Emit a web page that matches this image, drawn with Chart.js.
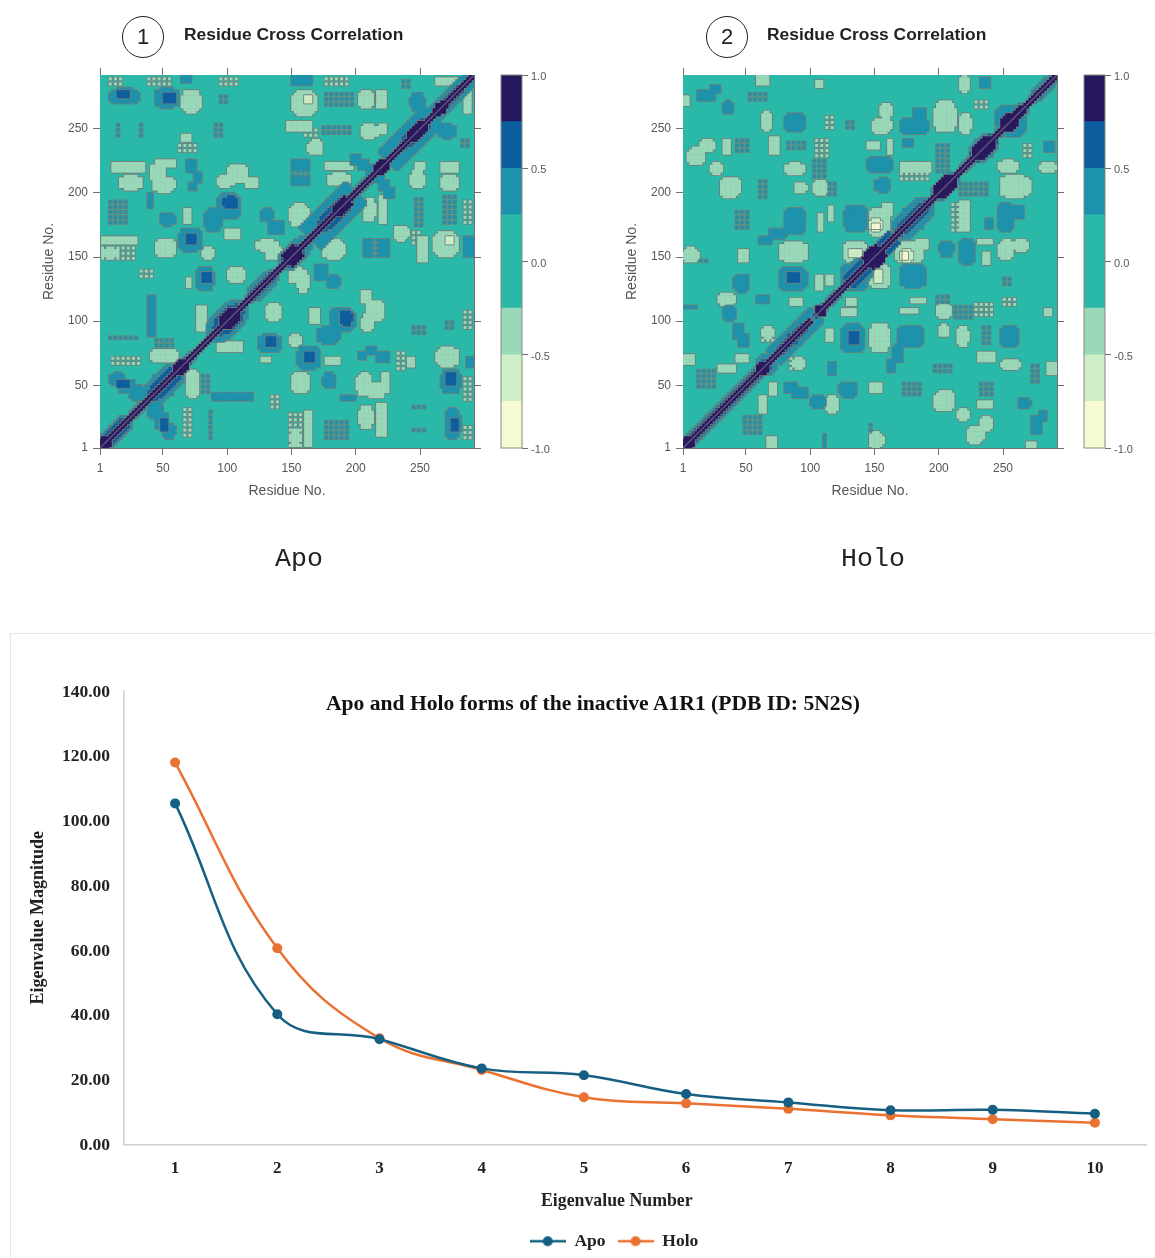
<!DOCTYPE html>
<html>
<head>
<meta charset="utf-8">
<title>Residue Cross Correlation</title>
<script src="https://cdn.jsdelivr.net/npm/chart.js@4"></script>
<style>
    html, body { margin: 0; background: #fff; }
    body { position: relative; width: 1155px; height: 1258px; overflow: hidden; }
    canvas, .txt, .ring, .box { position: absolute; filter: blur(0.5px); }
    #apoMap, #holoMap { filter: blur(0.6px); }
    .txt { white-space: nowrap; }
    .panelTitle { font: bold 17.4px "Liberation Sans"; color: #222; top: 24px; }
    .ring { width: 40px; height: 40px; top: 16px; border: 1.5px solid #222; border-radius: 50%;
            font: 22px/40px "Liberation Sans"; text-align: center; color: #222; }
    .form { font: 26.6px "Liberation Mono"; color: #222; top: 544px; }
    .box { left: 10px; top: 633px; width: 1160px; height: 650px; border: 1.5px solid #e6e6e6; }
    .serif { font: bold 17.8px "Liberation Serif"; color: #222; }
</style>
</head>
<body>
<div class="ring" style="left:122px">1</div>
<div class="txt panelTitle" style="left:184px">Residue Cross Correlation</div>
<div class="ring" style="left:706px">2</div>
<div class="txt panelTitle" style="left:767px">Residue Cross Correlation</div>
<div class="txt form" style="left:275px">Apo</div>
<div class="txt form" style="left:841px">Holo</div>
<div class="box"></div>

<canvas id="apoMap" width="460" height="450" style="left:30px;top:60px"></canvas>
<canvas id="apoBar" width="60" height="400" style="left:495px;top:60px"></canvas>
<canvas id="holoMap" width="460" height="450" style="left:613px;top:60px"></canvas>
<canvas id="holoBar" width="60" height="400" style="left:1078px;top:60px"></canvas>
<canvas id="eigenChart" width="1155" height="600" style="left:0;top:660px"></canvas>

<div class="txt" style="left:326px;top:691px;font:bold 21.6px 'Liberation Serif';color:#111">Apo and Holo forms of the inactive A1R1 (PDB ID: 5N2S)</div>
<div class="txt serif" style="left:541px;top:1190px">Eigenvalue Number</div>

<script>
// residue axes
const residueTicks = [1, 50, 100, 150, 200, 250];
const residueMin = 1;
const residueMax = 292;

// colour key
const bandEdges = [-1, -0.75, -0.5, -0.25, 0.25, 0.5, 0.75, 1];
const bandColors = ['#f6fad2', '#cdeec6', '#99d8b9', '#2ab8a8', '#1c92ad', '#0c5e9f', '#27185e'];
const keyTicks = [-1, -0.5, 0, 0.5, 1];

const apoPatches = [
    [9, 31, 270, 281, 0.4], [15, 23, 274, 280, 0.6], [44, 62, 267, 281, 0.4], [50, 60, 270, 278, 0.6],
    [65, 79, 263, 280, -0.4], [150, 170, 261, 279, -0.4], [161, 165, 270, 276, -0.6], [202, 214, 267, 280, -0.4],
    [216, 224, 266, 280, -0.4], [243, 253, 265, 277, 0.4], [262, 279, 285, 290, -0.4], [150, 165, 285, 291, 0.4],
    [65, 72, 286, 291, 0.4], [146, 165, 248, 255, -0.4], [204, 217, 243, 253, -0.4], [219, 224, 246, 254, -0.4],
    [65, 71, 241, 245, -0.4], [163, 174, 230, 241, -0.4], [11, 35, 217, 224, -0.4], [44, 59, 220, 226, -0.4],
    [40, 52, 210, 222, -0.4], [42, 59, 201, 212, -0.4], [16, 33, 203, 213, -0.4], [69, 76, 217, 225, 0.4],
    [70, 75, 202, 208, 0.4], [74, 79, 208, 215, 0.4], [100, 115, 208, 222, -0.4], [92, 105, 205, 213, -0.4],
    [115, 123, 205, 212, -0.4], [150, 164, 218, 225, 0.4], [150, 164, 206, 212, 0.4], [176, 198, 218, 224, -0.4],
    [178, 195, 206, 215, -0.4], [196, 204, 223, 229, 0.4], [202, 210, 219, 225, 0.4], [208, 216, 215, 222, 0.4],
    [38, 42, 188, 200, 0.4], [83, 95, 170, 187, 0.4], [92, 110, 180, 199, 0.4], [97, 108, 188, 197, 0.6],
    [48, 59, 175, 184, 0.4], [66, 72, 177, 187, -0.4], [126, 135, 178, 187, 0.4], [132, 144, 168, 178, 0.4],
    [149, 163, 174, 191, -0.4], [98, 110, 165, 172, -0.4], [3, 30, 160, 165, -0.4], [3, 15, 149, 157, -0.4],
    [44, 60, 150, 164, -0.4], [63, 80, 155, 172, 0.4], [68, 76, 160, 167, 0.6], [81, 89, 148, 158, -0.4],
    [123, 140, 155, 163, -0.4], [130, 144, 148, 157, -0.4], [76, 89, 124, 142, 0.4], [81, 87, 130, 138, 0.6],
    [100, 114, 131, 141, -0.4], [68, 72, 127, 133, -0.4], [38, 43, 88, 120, 0.4], [77, 83, 93, 111, -0.4],
    [40, 61, 68, 78, -0.4], [9, 20, 50, 59, 0.4], [16, 28, 44, 54, 0.4], [24, 36, 39, 49, 0.4], [15, 24, 49, 54, 0.6]
];
const apoSpeckle = [
    [9, 20, 284, 290, -0.4], [39, 58, 284, 290, -0.4], [95, 107, 284, 290, -0.4], [177, 193, 284, 290, -0.4],
    [237, 243, 283, 290, 0.4], [176, 198, 268, 277, 0.4], [95, 102, 270, 275, 0.4], [175, 196, 246, 254, 0.4],
    [14, 16, 244, 253, 0.4], [33, 36, 244, 253, 0.4], [91, 95, 245, 254, 0.4], [63, 75, 232, 240, -0.4],
    [160, 172, 244, 250, -0.4], [9, 23, 177, 195, 0.4], [3, 30, 149, 160, -0.4], [10, 33, 67, 74, -0.4],
    [45, 60, 80, 88, 0.4], [8, 30, 86, 88, 0.4], [33, 42, 135, 140, -0.4], [150, 164, 212, 218, 0.4]
];
// diagonal band, [fromResidue, toResidue, halfWidth, value]
const apoDiagonal = [
    [1, 25, 10, 0.4], [25, 35, 5, 0.4], [35, 65, 14, 0.4], [65, 75, 5, 0.4], [75, 85, 4, 0.4], [85, 115, 15, 0.4],
    [115, 140, 9, 0.4], [140, 165, 11, 0.4], [165, 200, 16, 0.4], [200, 215, 6, 0.4], [215, 225, 4, 0.4],
    [225, 260, 14, 0.4], [260, 292, 9, 0.4],
    [1, 25, 7, 0.6], [25, 35, 4, 0.6], [38, 65, 9, 0.6], [65, 72, 5, 0.6], [75, 85, 3, 0.6], [90, 112, 11, 0.6],
    [115, 140, 6, 0.6], [143, 160, 9, 0.6], [170, 198, 9, 0.6], [215, 225, 3, 0.6], [235, 258, 8, 0.6], [262, 285, 6, 0.6],
    [1, 8, 7, 0.9], [8, 60, 2, 0.9], [60, 68, 8, 0.9], [68, 95, 2, 0.9], [95, 108, 9, 0.9], [108, 145, 2, 0.9],
    [145, 157, 10, 0.9], [157, 183, 2, 0.9], [183, 196, 8, 0.9], [196, 216, 2, 0.9], [216, 224, 7, 0.9],
    [224, 242, 2, 0.9], [242, 254, 8, 0.9], [254, 262, 2, 0.9], [262, 270, 6, 0.9], [270, 292, 2, 0.9]
];

const holoPatches = [
    [59, 67, 285, 291, -0.4], [105, 110, 283, 288, -0.4], [216, 224, 279, 291, -0.4], [232, 240, 283, 289, 0.4],
    [12, 26, 272, 279, 0.4], [22, 30, 278, 284, 0.4], [1, 6, 269, 276, -0.4], [32, 40, 262, 271, 0.4],
    [62, 70, 249, 263, -0.4], [80, 96, 249, 261, 0.4], [148, 163, 247, 258, -0.4], [155, 163, 258, 270, -0.4],
    [171, 191, 246, 258, 0.4], [180, 190, 258, 265, 0.4], [197, 213, 248, 271, -0.4], [216, 225, 247, 261, -0.4],
    [245, 268, 248, 268, 0.4], [15, 25, 232, 241, -0.4], [5, 18, 222, 235, -0.4], [23, 31, 214, 223, -0.4],
    [32, 37, 230, 242, -0.4], [69, 75, 230, 243, -0.4], [145, 154, 235, 240, -0.4], [160, 164, 231, 241, -0.4],
    [172, 179, 237, 241, 0.4], [81, 95, 214, 223, -0.4], [145, 163, 216, 228, 0.4], [171, 193, 216, 223, -0.4],
    [30, 45, 197, 212, -0.4], [88, 97, 200, 208, -0.4], [103, 113, 199, 209, -0.4], [151, 162, 201, 211, 0.4],
    [80, 96, 168, 188, 0.4], [127, 144, 170, 190, 0.4], [146, 161, 167, 187, -0.4], [146, 156, 171, 179, -0.6],
    [149, 154, 172, 176, -0.9], [157, 163, 182, 192, -0.4], [107, 110, 170, 184, -0.4], [114, 117, 178, 190, -0.4],
    [60, 70, 160, 166, 0.4], [68, 81, 164, 172, 0.4], [77, 97, 146, 162, -0.4], [127, 143, 146, 162, -0.4],
    [131, 139, 150, 156, -0.6], [45, 52, 146, 156, -0.4], [1, 13, 146, 157, -0.4], [76, 97, 124, 142, 0.4],
    [82, 92, 130, 138, 0.6], [41, 52, 123, 136, 0.4], [105, 109, 125, 135, -0.4], [113, 118, 128, 135, -0.4],
    [127, 144, 124, 142, 0.4], [28, 42, 113, 121, -0.4], [58, 68, 114, 120, 0.4], [85, 93, 113, 117, -0.4],
    [32, 42, 101, 111, 0.4], [1, 11, 110, 112, 0.4], [40, 47, 86, 98, 0.4], [45, 52, 80, 90, 0.4],
    [1, 9, 67, 74, -0.4], [43, 51, 69, 73, -0.4], [87, 96, 63, 71, -0.4], [28, 42, 60, 66, -0.4]
];
const holoSpeckle = [
    [52, 68, 272, 280, 0.4], [113, 118, 250, 262, -0.4], [128, 136, 250, 258, 0.4], [228, 238, 266, 271, -0.4],
    [43, 51, 232, 242, 0.4], [83, 96, 234, 240, 0.4], [105, 115, 228, 241, -0.4], [198, 210, 217, 238, 0.4],
    [103, 113, 212, 226, 0.4], [171, 193, 210, 216, -0.4], [60, 67, 197, 210, 0.4], [115, 120, 198, 210, 0.4],
    [43, 51, 172, 186, 0.4], [14, 22, 146, 150, 0.4], [63, 71, 85, 95, -0.4], [12, 28, 48, 61, 0.4]
];
const holoDiagonal = [
    [1, 60, 7, 0.4], [60, 72, 12, 0.4], [72, 105, 10, 0.4], [104, 112, 6, 0.4], [112, 125, 5, 0.4], [125, 150, 14, 0.4],
    [150, 165, 10, 0.4], [165, 195, 14, 0.4], [195, 215, 10, 0.4], [215, 228, 5, 0.4], [225, 245, 12, 0.4],
    [245, 270, 9, 0.4], [270, 292, 7, 0.4],
    [1, 60, 5, 0.6], [60, 68, 7, 0.6], [72, 100, 6, 0.6], [104, 112, 4, 0.6], [112, 125, 3, 0.6], [130, 165, 8, 0.6],
    [165, 195, 7, 0.6], [198, 212, 8, 0.6], [215, 228, 3, 0.6], [225, 245, 8, 0.6], [250, 262, 6, 0.6], [262, 292, 4, 0.6],
    [1, 8, 8, 0.9], [8, 60, 2, 0.9], [60, 66, 7, 0.9], [66, 100, 2, 0.9], [106, 110, 6, 0.9], [110, 143, 2, 0.9],
    [143, 157, 11, 0.9], [157, 198, 2, 0.9], [198, 213, 10, 0.9], [213, 228, 2, 0.9], [228, 242, 9, 0.9],
    [242, 250, 2, 0.9], [250, 260, 9, 0.9], [260, 266, 6, 0.9], [266, 292, 2, 0.9]
];

// eigenvalues
const eigenNumbers = ['1', '2', '3', '4', '5', '6', '7', '8', '9', '10'];
const apoEigen = [105.3, 40.2, 32.5, 23.5, 21.4, 15.6, 13.0, 10.6, 10.7, 9.5];
const holoEigen = [117.9, 60.6, 32.8, 23.0, 14.6, 12.7, 11.0, 9.0, 7.8, 6.7];

const CELL = 2; // residues per cell
const CELL_PX = 3;
const OUTLINE = '#6f7f7a';
const GREY = '#6f6f6f';

function bandIndex(value) {
    for (let i = 0; i < bandColors.length; i++) {
        if (value <= bandEdges[i + 1]) return i;
    }
    return bandColors.length - 1;
}

function buildGrid(patches, speckle, diagonal) {
    const grid = new Map();
    const put = (x, y, v) => {
        for (const key of [x + ':' + y, y + ':' + x]) {
            if (!grid.has(key) || Math.abs(v) >= Math.abs(grid.get(key))) grid.set(key, v);
        }
    };
    const snap = (r) => residueMin + Math.round((r - residueMin) / CELL) * CELL;
    speckle.forEach(([x0, x1, y0, y1, v]) => {
        for (let x = snap(x0); x <= x1; x += CELL * 2) {
            for (let y = snap(y0); y <= y1; y += CELL * 2) put(x, y, v);
        }
    });
    patches.forEach(([x0, x1, y0, y1, v]) => {
        const cx = (x0 + x1) / 2, cy = (y0 + y1) / 2, rx = (x1 - x0) / 2, ry = (y1 - y0) / 2;
        for (let x = snap(x0); x <= x1; x += CELL) {
            for (let y = snap(y0); y <= y1; y += CELL) {
                // patches are blobs, so their corners stay empty
                const inCorner = rx >= 4 && ry >= 4 && ((x - cx) / rx) ** 2 + ((y - cy) / ry) ** 2 > 1.4;
                if (!inCorner) put(x, y, v);
            }
        }
    });
    diagonal.forEach(([from, to, half, v]) => {
        const mid0 = (from + to) / 2, len = to - from;
        for (let x = residueMin; x <= residueMax; x += CELL) {
            for (let y = x; y <= Math.min(residueMax, x + half); y += CELL) {
                const mid = (x + y) / 2;
                if (mid < from || mid > to) continue;
                // short stretches swell in the middle and pinch at the ends
                const t = Math.abs(mid - mid0) / (len / 2);
                const reach = len <= 30 && half >= 4 ? Math.max(2, half * (1 - t ** 4)) : half;
                if (y - x <= reach) put(x, y, v);
            }
        }
    });
    return grid;
}

function mapDatasets(patches, speckle, diagonal) {
    const byBand = bandColors.map(() => []);
    buildGrid(patches, speckle, diagonal).forEach((v, key) => {
        const [x, y] = key.split(':').map(Number);
        byBand[bandIndex(v)].push({ x, y });
    });
    // milder bands go down first, each with a grey contour under it
    const drawOrder = [2, 4, 5, 1, 6, 0];
    const sets = [];
    let order = 100;
    drawOrder.forEach((band) => {
        sets.push({
            data: byBand[band], order: order--, pointStyle: 'rect', borderWidth: 0,
            pointRadius: (CELL_PX + 1.6) * Math.SQRT1_2, backgroundColor: OUTLINE, showLine: false
        });
        sets.push({
            data: byBand[band], order: order--, pointStyle: 'rect', borderWidth: 0,
            pointRadius: CELL_PX * Math.SQRT1_2, backgroundColor: bandColors[band], showLine: false
        });
    });
    sets.push({
        type: 'line', data: [{ x: residueMin, y: residueMin }, { x: residueMax, y: residueMax }],
        borderColor: 'rgba(125,105,135,0.75)', borderWidth: 1.3, pointRadius: 0, order: 0
    });
    return sets;
}

const plotBackground = {
    id: 'plotBackground',
    beforeDatasetsDraw(chart) {
        const a = chart.chartArea;
        chart.ctx.fillStyle = bandColors[3];
        chart.ctx.fillRect(a.left, a.top, a.width, a.height);
    }
};

function residueAxis(extra) {
    return Object.assign({
        type: 'linear', min: residueMin, max: residueMax,
        afterBuildTicks: (s) => { s.ticks = residueTicks.map((value) => ({ value })); },
        border: { color: GREY, width: 1 },
        grid: { drawOnChartArea: false, color: GREY, tickColor: GREY, tickLength: 7, tickWidth: 1 }
    }, extra);
}

function labelled(title, size, fit, titlePadding, tickPadding) {
    return {
        ticks: {
            color: '#555', font: { family: 'Liberation Sans', size: 12 }, padding: tickPadding,
            autoSkip: false, maxRotation: 0, callback: (v) => v
        },
        title: {
            display: true, text: title, color: '#555',
            font: { family: 'Liberation Sans', size: 14 }, padding: titlePadding
        },
        afterFit: (s) => { s[fit] = size; }
    };
}

function blank(size, fit) {
    return {
        ticks: { display: true, autoSkip: false, maxRotation: 0, font: { size: 1 }, callback: () => '' },
        afterFit: (s) => { s[fit] = size; }
    };
}

function drawMap(id, patches, speckle, diagonal) {
    new Chart(document.getElementById(id), {
        type: 'scatter',
        data: { datasets: mapDatasets(patches, speckle, diagonal) },
        plugins: [plotBackground],
        options: {
            responsive: false, animation: false, events: [],
            layout: { padding: 0 },
            plugins: { legend: { display: false }, tooltip: { enabled: false } },
            scales: {
                x: residueAxis(Object.assign({ position: 'bottom' }, labelled('Residue No.', 62, 'height', { top: 0, bottom: 10 }, 6))),
                y: residueAxis(Object.assign({ position: 'left' }, labelled('Residue No.', 70, 'width', { top: 11, bottom: 0 }, 5))),
                x2: residueAxis(Object.assign({ axis: 'x', position: 'top' }, blank(15, 'height'))),
                y2: residueAxis(Object.assign({ axis: 'y', position: 'right' }, blank(16, 'width')))
            }
        }
    });
}

function drawKey(id) {
    const frame = {
        id: 'frame',
        afterDatasetsDraw(chart) {
            const a = chart.chartArea;
            chart.ctx.strokeStyle = '#8a8a80';
            chart.ctx.lineWidth = 1;
            chart.ctx.strokeRect(a.left, a.top, a.width, a.height);
        }
    };
    new Chart(document.getElementById(id), {
        type: 'bar',
        data: {
            labels: [''],
            datasets: bandColors.map((c, i) => ({
                data: [[bandEdges[i], bandEdges[i + 1]]], backgroundColor: c,
                barPercentage: 1, categoryPercentage: 1, grouped: false
            }))
        },
        plugins: [frame],
        options: {
            responsive: false, animation: false, events: [],
            layout: { padding: { left: 6, top: 15, bottom: 12 } },
            plugins: { legend: { display: false }, tooltip: { enabled: false } },
            scales: {
                x: { display: false },
                y: {
                    position: 'right', min: -1, max: 1,
                    afterBuildTicks: (s) => { s.ticks = keyTicks.map((value) => ({ value })); },
                    afterFit: (s) => { s.width = 33; },
                    border: { display: false },
                    grid: { drawOnChartArea: false, tickColor: GREY, tickLength: 6 },
                    ticks: {
                        color: '#555', font: { family: 'Liberation Sans', size: 11 }, padding: 3, labelOffset: 2,
                        autoSkip: false, callback: (v) => v.toFixed(1)
                    }
                }
            }
        }
    });
}

drawMap('apoMap', apoPatches, apoSpeckle, apoDiagonal);
drawKey('apoBar');
drawMap('holoMap', holoPatches, holoSpeckle, holoDiagonal);
drawKey('holoBar');

// legend swatch: short line with a dot on it
function legendSwatch(color) {
    const c = document.createElement('canvas');
    c.width = 36;
    c.height = 12;
    const g = c.getContext('2d');
    g.strokeStyle = color;
    g.lineWidth = 2.5;
    g.beginPath();
    g.moveTo(0, 6);
    g.lineTo(36, 6);
    g.stroke();
    g.fillStyle = color;
    g.beginPath();
    g.arc(18, 6, 5, 0, Math.PI * 2);
    g.fill();
    return c;
}

const serifBold = (size) => ({ family: 'Liberation Serif', size, weight: 'bold' });

new Chart(document.getElementById('eigenChart'), {
    type: 'line',
    data: {
        labels: eigenNumbers,
        datasets: [
            { label: 'Apo', data: apoEigen, borderColor: '#156082', backgroundColor: '#156082' },
            { label: 'Holo', data: holoEigen, borderColor: '#e97132', backgroundColor: '#e97132' }
        ]
    },
    plugins: [{
        id: 'legendShift',
        afterLayout(chart) {
            chart.legend.left += 41;
            chart.legend.right += 41;
        }
    }],
    options: {
        responsive: false, animation: false, events: [],
        layout: { padding: { top: 31, right: 9 } },
        elements: {
            line: { borderWidth: 2.5, tension: 0.4 },
            point: { radius: 5, borderWidth: 0 }
        },
        plugins: {
            tooltip: { enabled: false },
            legend: {
                position: 'bottom',
                labels: {
                    usePointStyle: true, pointStyleWidth: 36, padding: 12, color: '#222', font: serifBold(17.5),
                    generateLabels: (chart) => chart.data.datasets.map((d, i) => ({
                        text: d.label, datasetIndex: i, fontColor: '#222', pointStyle: legendSwatch(d.borderColor),
                        fillStyle: d.borderColor, strokeStyle: d.borderColor, lineWidth: 0
                    }))
                }
            }
        },
        scales: {
            x: {
                offset: true,
                border: { color: '#cfcfcf', width: 1.5 },
                grid: { display: false },
                ticks: { color: '#222', font: serifBold(17), padding: 6 },
                afterFit: (s) => { s.height = 76; }
            },
            y: {
                min: 0, max: 140,
                border: { color: '#cfcfcf', width: 1.5 },
                grid: { display: false },
                ticks: { stepSize: 20, color: '#222', font: serifBold(17.5), padding: 6, labelOffset: 1, callback: (v) => v.toFixed(2) },
                title: { display: true, text: 'Eigenvalue Magnitude', color: '#222', font: serifBold(18), padding: { top: 28, bottom: 0 } },
                afterFit: (s) => { s.width = 124; }
            }
        }
    }
});
</script>
</body>
</html>
